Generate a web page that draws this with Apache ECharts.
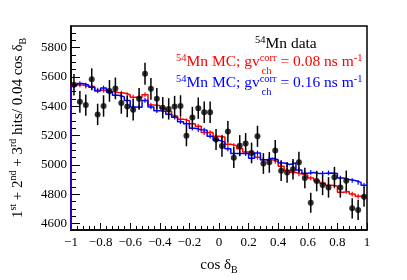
<!DOCTYPE html>
<html><head><meta charset="utf-8">
<script src="https://cdn.jsdelivr.net/npm/echarts@6/dist/echarts.min.js"></script>
<style>html,body{margin:0;padding:0;background:#fff}#c{width:407px;height:280px}</style>
</head><body><div id="c"></div>
<script>
// ---- axis structure ----
const xMin = -1, xMax = 1, binWidth = 0.04;
const yMin = 4555, yMax = 5948;
const xTickLabels = [-1, -0.8, -0.6, -0.4, -0.2, 0, 0.2, 0.4, 0.6, 0.8, 1];
const yTickLabels = [4600, 4800, 5000, 5200, 5400, 5600, 5800];
const yMinorTicks = [4600,4650,4700,4750,4800,4850,4900,4950,5000,5050,5100,5150,5200,5250,5300,5350,5400,5450,5500,5550,5600,5650,5700,5750,5800,5850,5900];

// ---- data (50 bins of 0.04 in cos delta_B) ----
const dataValues = [5547,5430,5408,5584,5344,5402,5505,5522,5423,5398,
                    5376,5451,5622,5519,5451,5390,5382,5398,5402,5199,
                    5323,5387,5359,5359,5173,5128,5227,5049,5131,5145,
                    5081,5195,5009,5017,5098,4959,4948,4970,5018,4910,
                    4741,4889,4863,4846,4916,4846,4891,4703,4692,4782];
const dataErrors = [74,74,73,75,73,73,74,74,74,73,
                    73,74,75,74,74,73,73,73,73,72,
                    73,73,73,73,72,72,72,71,72,72,
                    71,72,71,71,71,70,70,70,71,70,
                    69,70,70,70,70,70,70,69,69,69];
const mcRed = [5547,5545,5537,5535,5510,5509,5500,5494,5490,5479,
               5462,5462,5479,5408,5405,5387,5365,5333,5312,5301,
               5280,5263,5220,5220,5195,5190,5141,5131,5109,5088,
               5077,5051,5034,5034,5023,4991,4963,4948,4938,4930,
               4910,4891,4875,4860,4855,4812,4818,4800,4785,4778];
const mcBlue = [5540,5555,5545,5530,5505,5525,5495,5475,5465,5440,
                5395,5393,5440,5395,5370,5365,5345,5325,5295,5280,
                5250,5240,5237,5195,5168,5155,5109,5077,5077,5077,
                5045,5081,5034,5045,5035,5013,5002,5013,4965,4942,
                4948,4940,4942,4945,4940,4910,4900,4893,4880,4860];
const mcErr = 16;

// ---- build series data ----
const centers = dataValues.map((_, i) => xMin + binWidth * (i + 0.5));
function stepData(vals) {
  const d = [[xMin, yMin]];
  vals.forEach((v, i) => d.push([xMin + binWidth * i, v]));
  d.push([xMax, vals[vals.length - 1]]);
  return d;
}
function errRender(color, lw) {
  return function (params, api) {
    const x = api.value(0), y = api.value(1), e = api.value(2);
    const a = api.coord([x, y + e]), b = api.coord([x, y - e]);
    return { type: 'line', shape: { x1: a[0], y1: a[1], x2: b[0], y2: b[1] },
             style: { stroke: color, lineWidth: lw } };
  };
}
const FONT = 'Liberation Serif';
function legendRich(color) {
  return { n: { fontFamily: FONT, fontSize: 15.5, lineHeight: 18, fill: color },
           sup: { fontFamily: FONT, fontSize: 10.5, verticalAlign: 'top', fill: color } };
}
const chart = echarts.init(document.getElementById('c'), null, { renderer: 'canvas' });
chart.setOption({
  animation: false,
  backgroundColor: '#fff',
  grid: { left: 55, right: 40, top: 26, bottom: 37, show: true, borderColor: '#000', borderWidth: 1.5, backgroundColor: 'transparent' },
  xAxis: {
    type: 'value', min: xMin, max: xMax, interval: 0.2,
    axisLine: { onZero: false, lineStyle: { color: '#000', width: 1.5 } },
    axisTick: { inside: true, length: 7, lineStyle: { color: '#000', width: 1 } },
    minorTick: { show: true, splitNumber: 5, length: 4, lineStyle: { color: '#000', width: 1 } },
    splitLine: { show: false },
    axisLabel: { color: '#000', fontFamily: FONT, fontSize: 13, margin: 6,
      formatter: v => String(Math.round(v * 10) / 10).replace('-', '\u2212') },
    name: '{n|cos δ}{sub|B}', nameLocation: 'middle', nameGap: 25,
    nameTextStyle: { color: '#000', fontFamily: FONT, fontSize: 15,
      rich: { n: { fontFamily: FONT, fontSize: 15, lineHeight: 20, color: '#000' },
              sub: { fontFamily: FONT, fontSize: 10, verticalAlign: 'bottom', color: '#000' } } }
  },
  yAxis: [{
    type: 'value', min: yMin, max: yMax, position: 'left',
    axisLine: { show: true, onZero: false, lineStyle: { color: '#000', width: 1.5 } },
    axisTick: { inside: true, length: 9, customValues: yTickLabels, lineStyle: { color: '#000', width: 1 } },
    splitLine: { show: false },
    axisLabel: { color: '#000', fontFamily: FONT, fontSize: 13, margin: 4, customValues: yTickLabels,
      formatter: v => String(v) },
    name: '{n|1}{sup|st}{n| + 2}{sup|nd}{n| + 3}{sup|rd}{n| hits/ 0.04 cos δ}{sub|B}',
    nameLocation: 'middle', nameRotate: 90, nameGap: 43,
    nameTextStyle: { color: '#000', fontFamily: FONT, fontSize: 15,
      rich: { n: { fontFamily: FONT, fontSize: 15, lineHeight: 20, color: '#000' },
              sup: { fontFamily: FONT, fontSize: 10, verticalAlign: 'top', color: '#000' },
              sub: { fontFamily: FONT, fontSize: 10, verticalAlign: 'bottom', color: '#000' } } }
  }, {
    type: 'value', min: yMin, max: yMax, position: 'left',
    axisLine: { show: false, onZero: false },
    axisTick: { inside: true, length: 5, customValues: yMinorTicks, lineStyle: { color: '#000', width: 1 } },
    splitLine: { show: false },
    axisLabel: { show: false }
  }],
  series: [
    { type: 'line', step: 'end', data: stepData(mcRed), showSymbol: false, symbol: 'none',
      lineStyle: { color: '#ff0000', width: 1.5 }, z: 2, clip: true },
    { type: 'custom', data: centers.map((x, i) => [x, mcRed[i], mcErr]), renderItem: errRender('#ff0000', 1.2), z: 2, clip: true },
    { type: 'line', step: 'end', data: stepData(mcBlue), showSymbol: false, symbol: 'none',
      lineStyle: { color: '#0000ff', width: 1.5 }, z: 3, clip: true },
    { type: 'custom', data: centers.map((x, i) => [x, mcBlue[i], mcErr]), renderItem: errRender('#0000ff', 1.2), z: 3, clip: true },
    { type: 'custom', data: centers.map((x, i) => [x, dataValues[i], dataErrors[i]]), renderItem: errRender('#000', 1.5), z: 4, clip: true },
    { type: 'scatter', data: centers.map((x, i) => [x, dataValues[i]]), symbol: 'circle', symbolSize: 6,
      itemStyle: { color: '#000' }, z: 5 }
  ],
  graphic: [
    { type: 'text', x: 255, y: 44, z: 10, style: { text: '{sup|54}{n|Mn data}', fill: '#000', verticalAlign: 'middle', rich: legendRich('#000') } },
    { type: 'text', x: 176, y: 62, z: 10, style: { text: '{sup|54}{n|Mn MC; gv}{sup|corr}{n| = 0.08 ns m}{sup|-1}', fill: '#ff0000', verticalAlign: 'middle', rich: legendRich('#ff0000') } },
    { type: 'text', x: 261.5, y: 71.5, z: 10, style: { text: 'ch', fill: '#ff0000', fontFamily: FONT, fontSize: 10.5, verticalAlign: 'middle' } },
    { type: 'text', x: 176, y: 83, z: 10, style: { text: '{sup|54}{n|Mn MC; gv}{sup|corr}{n| = 0.16 ns m}{sup|-1}', fill: '#0000ff', verticalAlign: 'middle', rich: legendRich('#0000ff') } },
    { type: 'text', x: 261.5, y: 92.5, z: 10, style: { text: 'ch', fill: '#0000ff', fontFamily: FONT, fontSize: 10.5, verticalAlign: 'middle' } }
  ]
});
</script></body></html>
